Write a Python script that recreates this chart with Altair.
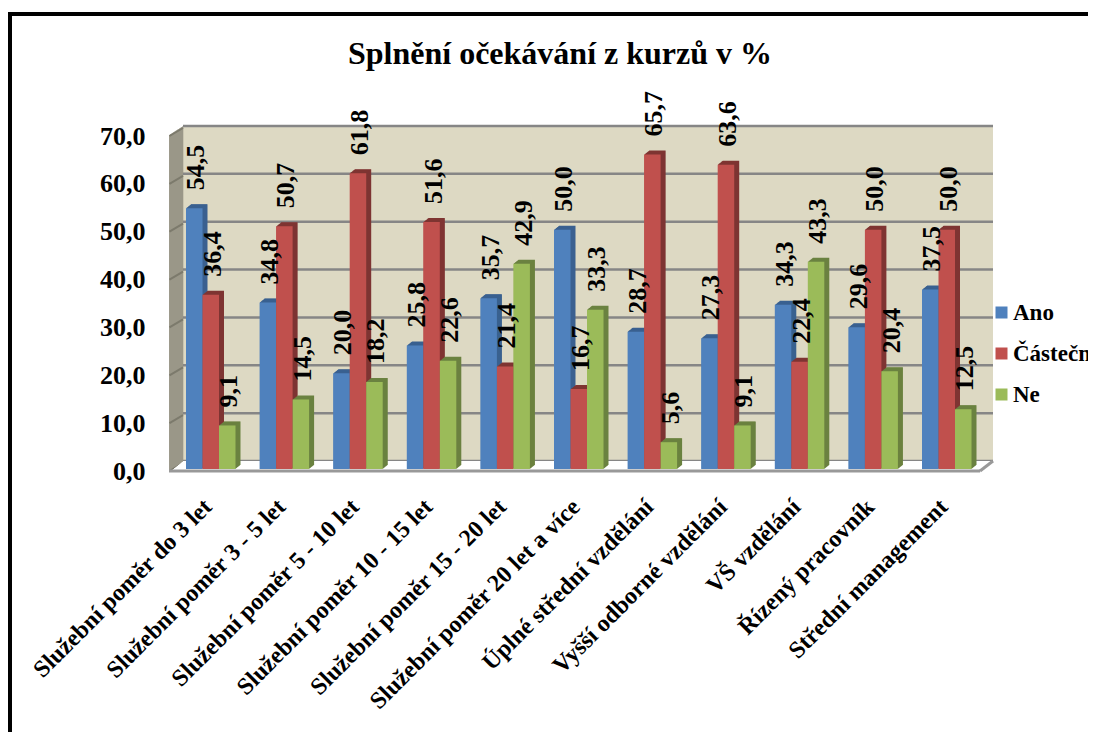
import altair as alt
import pandas as pd

categories = ["Služební poměr do 3 let", "Služební poměr 3 - 5 let", "Služební poměr 5 - 10 let",
              "Služební poměr 10 - 15 let", "Služební poměr 15 - 20 let", "Služební poměr 20 let a více",
              "Úplné střední vzdělání", "Vyšší odborné vzdělání", "VŠ vzdělání", "Řízený pracovník",
              "Střední management"]
series = ["Ano", "Částečně", "Ne"]
ano = [54.5, 34.8, 20.0, 25.8, 35.7, 50.0, 28.7, 27.3, 34.3, 29.6, 37.5]
castecne = [36.4, 50.7, 61.8, 51.6, 21.4, 16.7, 65.7, 63.6, 22.4, 50.0, 50.0]
ne = [9.1, 14.5, 18.2, 22.6, 42.9, 33.3, 5.6, 9.1, 43.3, 20.4, 12.5]
ticks = [0, 10, 20, 30, 40, 50, 60, 70]
front = ["#4F81BD", "#C0504D", "#9BBB59"]
dark = ["#3A6190", "#7F3533", "#6B8240"]

FONT = "Liberation Serif"
W, H = 824, 346
PL, PT = 161, 118
PB, PR = 260, 95
PX_PER_UNIT = 335 / 70
DX, DY = 14, 8
BAR = 49.5 / 3 / 73.6          # one bar's width, in group steps

rows = []
for si, (s, vals) in enumerate(zip(series, [ano, castecne, ne])):
    for ci, (c, v) in enumerate(zip(categories, vals)):
        rows.append({"cat": c, "series": s, "value": v, "zero": 0,
                     "x0": ci + si * BAR, "x1": ci + (si + 1) * BAR, "xc": ci + (si + 0.5) * BAR,
                     "label": f"{v:.1f}".replace(".", ",")})
df = pd.DataFrame(rows)

cat_js = "[" + ",".join(f"'{c}'" for c in categories) + "]"
x_scale = alt.Scale(domain=[0, 10 + 3 * BAR], range=[17, 802.5], nice=False, zero=False)
x_axis = alt.Axis(values=[i + 1.5 * BAR for i in range(len(categories))],
                  labelExpr=f"{cat_js}[floor(datum.value)]",
                  labelAngle=-45, labelAlign="right", labelBaseline="middle",
                  labelFont=FONT, labelFontWeight="bold", labelFontSize=24, labelOffset=-3,
                  labelColor="black", labelPadding=31, labelLimit=500, labelOverlap=False,
                  domain=False, ticks=False, grid=False, labelBound=False, labelFlush=False)
y_scale = alt.Scale(domain=[0, 70], range=[343, 8], nice=False)
y_axis = alt.Axis(values=ticks, labelExpr="replace(format(datum.value,'.1f'),'.',',')",
                  labelFont=FONT, labelFontWeight="bold", labelFontSize=26, labelOffset=2,
                  labelColor="black", labelPadding=24, domain=False, ticks=False, grid=False)


def X(f):
    return alt.X(f, type="quantitative", title=None, scale=x_scale, axis=x_axis)


def Y(f):
    return alt.Y(f, type="quantitative", title=None, scale=y_scale, axis=y_axis)


layers = []

# chart frame
layers.append(alt.Chart().mark_rect(color="black").encode(
    x=alt.value(-PL), x2=alt.value(-PL + 4), y=alt.value(-PT + 4), y2=alt.value(H + PB)))
layers.append(alt.Chart().mark_rect(color="black").encode(
    x=alt.value(-PL), x2=alt.value(W + PR), y=alt.value(-PT + 4), y2=alt.value(-PT + 8)))

# back wall
layers.append(alt.Chart().mark_rect(color="#DDD9C3").encode(
    x=alt.value(DX), x2=alt.value(W), y=alt.value(0), y2=alt.value(335)))
# left wall
for i in range(DX * 2):
    f = i / 2
    layers.append(alt.Chart().mark_rect(color="#8F8C7C").encode(
        x=alt.value(f), x2=alt.value(f + 0.75),
        y=alt.value(9 - f * 9 / DX), y2=alt.value(346 - f * 11 / DX)))

tick_df = pd.DataFrame({"t": ticks})
# back gridlines
layers.append(alt.Chart(tick_df).mark_rule(color="#868686", strokeWidth=2.5, yOffset=-DY).encode(
    y=Y("t"), x=alt.value(DX), x2=alt.value(W)))
# gridlines across the left wall
diag = tick_df.assign(t2=tick_df["t"] + DY / PX_PER_UNIT)
layers.append(alt.Chart(diag).mark_rule(color="#7C7A6C", strokeWidth=2, yOffset=2, y2Offset=2).encode(
    y=Y("t2"), y2=alt.Y2("t:Q"), x=alt.value(DX), x2=alt.value(0.5)))

# floor
for i in range(11):
    layers.append(alt.Chart().mark_rect(color="white").encode(
        x=alt.value(DX - i * 14 / 11), x2=alt.value(W - i * 13 / 11),
        y=alt.value(335 + i), y2=alt.value(336 + i)))
layers.append(alt.Chart().mark_rule(color="#999999", strokeWidth=3).encode(
    x=alt.value(0), x2=alt.value(W - 13), y=alt.value(345)))
layers.append(alt.Chart().mark_rule(color="#999999", strokeWidth=3).encode(
    x=alt.value(W - 13), x2=alt.value(W), y=alt.value(345), y2=alt.value(335)))

# bars: depth copies, then the front face
for s, col_d in zip(series, dark):
    sub = df[df["series"] == s]
    for k in range(10, 0, -1):
        ox, oy = k * 0.5, -k * 0.4
        layers.append(alt.Chart(sub).mark_rect(
            color=col_d, xOffset=ox, x2Offset=ox, yOffset=oy, y2Offset=oy).encode(
            x=X("x0"), x2=alt.X2("x1"), y=Y("value"), y2=alt.Y2("zero")))
    layers.append(alt.Chart(sub).mark_rect().encode(
        x=X("x0"), x2=alt.X2("x1"), y=Y("value"), y2=alt.Y2("zero"),
        color=alt.Color("series:N", sort=series,
                        scale=alt.Scale(domain=series, range=front),
                        legend=alt.Legend(title=None, orient="none", legendX=821, legendY=175,
                                          symbolType="square", symbolSize=144, symbolStrokeWidth=0,
                                          labelFont=FONT, labelFontWeight="bold", labelFontSize=23,
                                          labelColor="black", labelLimit=300, rowPadding=17,
                                          labelOffset=0))))

# value labels
layers.append(alt.Chart(df).mark_text(
    angle=270, align="left", baseline="middle", dx=18, dy=2,
    font=FONT, fontWeight="bold", fontSize=26, color="black").encode(
    x=X("xc"), y=Y("value"), text="label:N"))

chart = alt.layer(*layers).properties(
    width=W, height=H,
    padding={"left": PL, "top": PT, "right": PR, "bottom": PB},
    autosize=alt.AutoSizeParams(type="none"),
    title=alt.TitleParams("Splnění očekávání z kurzů v %", font=FONT, fontWeight="bold",
                          fontSize=32, color="black", anchor="middle", dx=-21, offset=-59),
).configure_view(stroke=None)

chart.save("out.html", embed_options={"renderer": "svg", "actions": False})
